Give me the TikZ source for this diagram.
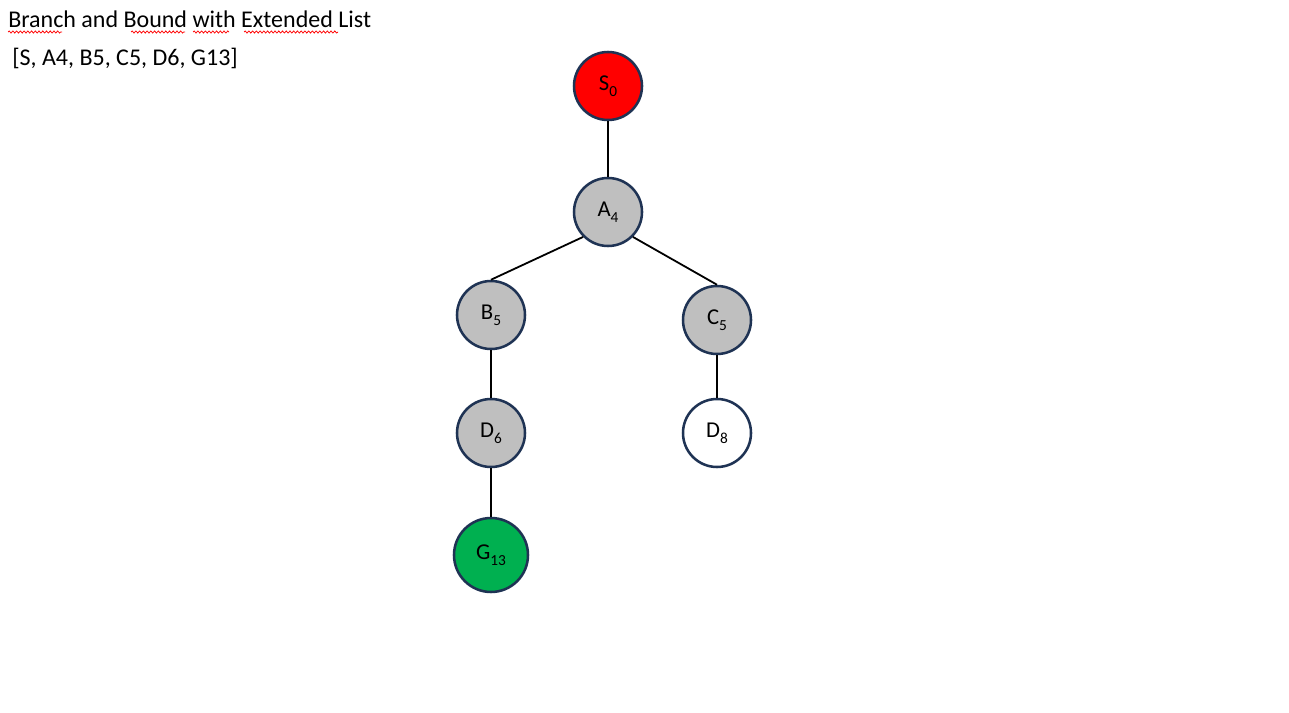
\documentclass[tikz,border=0pt]{standalone}
\usepackage{fontspec}
\setmainfont{Carlito}
\usetikzlibrary{decorations.pathmorphing}
\definecolor{rim}{HTML}{1F3354}
\definecolor{nodegray}{HTML}{BFBFBF}
\definecolor{startred}{HTML}{FF0000}
\definecolor{goalgreen}{HTML}{00B050}
% lowered index in the style of a word processor subscript
\newcommand{\idx}[1]{\raisebox{-0.28em}{\fontsize{11.5}{13}\selectfont #1}}
\begin{document}
\begin{tikzpicture}[x=0.75pt,y=-0.75pt,
  state/.style={circle,draw=rim,line width=1.9pt,minimum size=#1,inner sep=0pt,
    font=\fontsize{17}{20}\selectfont},
  state/.default=51pt,
  edge/.style={line width=1.35pt,black},
  txt/.style={anchor=base west,inner sep=0pt,font=\fontsize{18}{21}\selectfont},
  squiggle/.style={red,line width=0.55pt,decorate,
    decoration={snake,amplitude=0.8pt,segment length=2.8pt}}]
\useasboundingbox[fill=white] (0,0) rectangle (1289,713);

% heading and path list
\node[txt] (title) at (8,28) {Branch and Bound with Extended List};
\node[txt] (list) at (12,66) {[S, A4, B5, C5, D6, G13]};

% spell-check marks under the heading
\draw[squiggle] (8,32) -- (62,32);
\draw[squiggle] (131,32) -- (185,32);
\draw[squiggle] (193,32) -- (229,32);
\draw[squiggle] (244,32) -- (338,32);

% search tree
\node[state,fill=startred] (S) at (608,86) {S\idx{0}};
\node[state,fill=nodegray] (A) at (608,212) {A\idx{4}};
\node[state,fill=nodegray] (B) at (491,315) {B\idx{5}};
\node[state,fill=nodegray] (C) at (717,320) {C\idx{5}};
\node[state,fill=nodegray] (D6) at (491,433) {D\idx{6}};
\node[state,fill=white] (D8) at (717,433) {D\idx{8}};
\node[state=55.5pt,fill=goalgreen] (G) at (491,555) {G\idx{13}};

\draw[edge] (S) -- (A);
\draw[edge] (A.south west) -- (B.north);
\draw[edge] (A.south east) -- (C.north);
\draw[edge] (B) -- (D6);
\draw[edge] (C) -- (D8);
\draw[edge] (D6) -- (G);
\end{tikzpicture}
\end{document}
